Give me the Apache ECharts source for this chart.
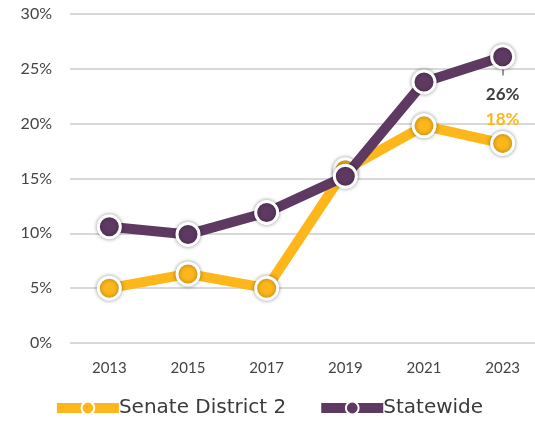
<!DOCTYPE html>
<html><head><meta charset="utf-8">
<script src="https://cdn.jsdelivr.net/npm/echarts@6/dist/echarts.min.js"></script>
<style>html,body{margin:0;padding:0;background:#fff}#c{width:535px;height:424px}</style>
</head><body><div id="c"></div>
<script>
var years = ['2013','2015','2017','2019','2021','2023'];
var senateDistrict2 = [5.0, 6.3, 5.0, 15.8, 19.8, 18.2];
var statewide = [10.6, 9.9, 11.9, 15.2, 23.8, 26.1];
var yTicks = [0, 5, 10, 15, 20, 25, 30];

var YEL = '#FDB71A', PUR = '#5E3A62';
function mk(vals, lastLabel) {
  return vals.map(function (v, i) {
    if (i !== vals.length - 1) return v;
    return { value: v, label: lastLabel };
  });
}
var chart = echarts.init(document.getElementById('c'));
var markerStyle = function (c) {
  return { color: c, borderColor: '#fff', borderWidth: 3, shadowBlur: 4, shadowColor: 'rgba(0,0,0,0.35)' };
};
chart.setOption({
  animation: false,
  grid: { left: 70, width: 472, top: 14, bottom: 81, outerBoundsMode: 'none', containLabel: false },
  legend: {
    bottom: 1, left: 'center', itemWidth: 62, itemHeight: 16, itemGap: 30,
    lineStyle: { width: 10 },
    textStyle: { fontFamily: 'DejaVu Sans', fontWeight: 500, fontSize: 20, color: '#3a3a3a', padding: [0, 0, 0, -5] },
    data: ['Senate District 2', 'Statewide']
  },
  xAxis: {
    type: 'category', data: years, boundaryGap: true,
    axisLine: { show: false }, axisTick: { show: false },
    axisLabel: { color: '#444', fontFamily: 'Lato', fontSize: 15, margin: 18 }
  },
  yAxis: {
    type: 'value', min: 0, max: 30, interval: 5,
    axisLabel: { formatter: function (v) { return yTicks.indexOf(v) >= 0 ? v + '%' : ''; }, color: '#444', fontFamily: 'Lato', fontSize: 16, margin: 18 },
    splitLine: { lineStyle: { color: '#d9d9d9', width: 2 } }
  },
  series: [
    {
      name: 'Senate District 2', type: 'line', data: mk(senateDistrict2, {
        show: true, position: 'top', distance: 3, color: YEL, fontFamily: 'Lato', fontWeight: 'bold', fontSize: 17,
        formatter: function (p) { return Math.round(p.value) + '%'; }
      }),
      color: YEL, lineStyle: { width: 10, color: YEL }, symbol: 'circle', symbolSize: 22,
      itemStyle: markerStyle(YEL), z: 2, labelLayout: { hideOverlap: false }
    },
    {
      name: 'Statewide', type: 'line', data: mk(statewide, {
        show: true, position: 'bottom', distance: 17, color: '#3d3d3d', fontFamily: 'Lato', fontWeight: 'bold', fontSize: 17,
        formatter: function (p) { return Math.round(p.value) + '%'; }
      }),
      color: PUR, lineStyle: { width: 10, color: PUR }, symbol: 'circle', symbolSize: 22,
      itemStyle: markerStyle(PUR), z: 3, labelLayout: { hideOverlap: false },
      markLine: {
        silent: true, symbol: 'none', label: { show: false },
        lineStyle: { color: '#999', width: 2, type: 'solid' }, z: 1,
        data: [[{ coord: ['2023', statewide[5]] }, { coord: ['2023', statewide[5] - 1.7] }]]
      }
    }
  ]
});
</script></body></html>
